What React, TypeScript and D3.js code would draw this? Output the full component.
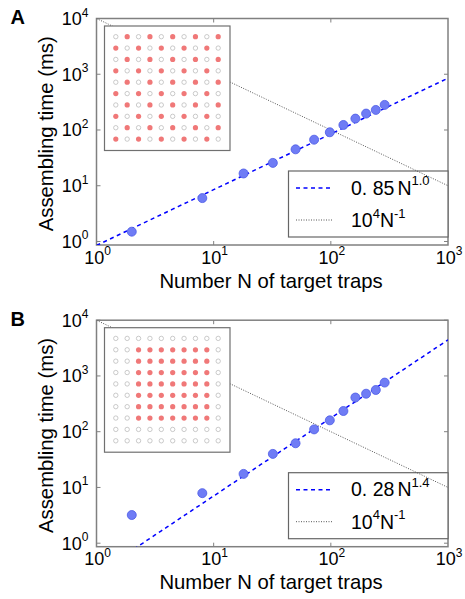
import React, { useRef, useEffect } from 'react'
import * as d3 from 'd3'

// number of target traps (x) and assembling times (ms)
const trapCounts = [2, 8, 18, 32, 50, 72, 98, 128, 162, 200, 242, 288]
const timesA = [1.5, 6.0, 16.6, 25.7, 45, 67, 91, 123, 160, 197, 229, 282]
const timesB = [3.2, 7.9, 17.5, 40, 62, 110, 160, 235, 410, 480, 560, 760]

// fit lines: coefficient and exponent
const fitA = { coef: 0.85, exp: 1.0, label: ['0. 85', 'N', '1.0'] }
const fitB = { coef: 0.28, exp: 1.4, label: ['0. 28', 'N', '1.4'] }
const refLine = { coef: 1e4, exp: -1 }

// trap pattern insets: 1 = filled target trap
const patternA = [
  '0101010101', '1010101010', '0101010101', '1010101010', '0101010101',
  '1010101010', '0101010101', '1010101010', '0101010101', '1010101010',
]
const patternB = [
  '0000000000', '0011111110', '0011111110', '0011111110', '0011111110',
  '0011111110', '0011111110', '0011111110', '0000000000', '0000000000',
]

const xTicks = [1, 10, 100, 1000]
const yTicks = [1, 10, 100, 1000, 10000]

const font = "'Liberation Sans', Arial, sans-serif"

const layout = { width: 465, height: 599, left: 96.5, right: 448, top: 18.5, bottom: 245, offsetB: 301.7 }

export default function App() {
  const ref = useRef<SVGSVGElement>(null)

  useEffect(() => {
    const svg = d3.select(ref.current)
    svg.selectAll('*').remove()

    const xScale = d3.scaleLog().domain([1, 1000]).range([layout.left, layout.right])

    const panels = [
      { name: 'A', dy: 0, times: timesA, fit: fitA, pattern: patternA },
      { name: 'B', dy: layout.offsetB, times: timesB, fit: fitB, pattern: patternB },
    ]

    panels.forEach((p, pi) => {
      const g = svg.append('g').attr('transform', `translate(0, ${p.dy})`)
      const yScale = d3.scaleLog().domain([0.865, 1e4]).range([layout.bottom, layout.top])

      const clipId = `clip${pi}`
      g.append('clipPath').attr('id', clipId)
        .append('rect')
        .attr('x', layout.left).attr('y', layout.top)
        .attr('width', layout.right - layout.left)
        .attr('height', layout.bottom - layout.top)

      // frame
      g.append('rect')
        .attr('x', layout.left).attr('y', layout.top)
        .attr('width', layout.right - layout.left)
        .attr('height', layout.bottom - layout.top)
        .attr('fill', 'none').attr('stroke', '#808080').attr('stroke-width', 1.5)

      // inward ticks
      const tickLen = 4
      xTicks.slice(1, -1).forEach(t => {
        const x = xScale(t)
        g.append('line').attr('x1', x).attr('x2', x).attr('y1', layout.bottom).attr('y2', layout.bottom - tickLen)
          .attr('stroke', '#808080').attr('stroke-width', 1)
        g.append('line').attr('x1', x).attr('x2', x).attr('y1', layout.top).attr('y2', layout.top + tickLen)
          .attr('stroke', '#808080').attr('stroke-width', 1)
      })
      yTicks.forEach(t => {
        const y = yScale(t)
        g.append('line').attr('x1', layout.left).attr('x2', layout.left + tickLen).attr('y1', y).attr('y2', y)
          .attr('stroke', '#808080').attr('stroke-width', 1)
        g.append('line').attr('x1', layout.right).attr('x2', layout.right - tickLen).attr('y1', y).attr('y2', y)
          .attr('stroke', '#808080').attr('stroke-width', 1)
      })

      // tick labels
      const xl = g.append('g').selectAll('text').data(xTicks).join('text')
        .attr('x', d => xScale(d) + 1).attr('y', layout.bottom + 18.5)
        .attr('text-anchor', 'middle').attr('font-family', font).attr('font-size', 18)
      xl.append('tspan').text('10')
      xl.append('tspan').attr('dy', -8.5).attr('font-size', 12).text(d => Math.round(Math.log10(d)))

      const yl = g.append('g').selectAll('text').data(yTicks).join('text')
        .attr('x', layout.left - 8).attr('y', d => yScale(d) + 6.5)
        .attr('text-anchor', 'end').attr('font-family', font).attr('font-size', 18)
      yl.append('tspan').text('10')
      yl.append('tspan').attr('dy', -8.5).attr('font-size', 12).text(d => Math.round(Math.log10(d)))

      // axis titles
      g.append('text')
        .attr('x', 271).attr('y', layout.bottom + 42.5)
        .attr('text-anchor', 'middle').attr('font-family', font).attr('font-size', 20.3)
        .text('Number N of target traps')
      g.append('text')
        .attr('transform', `translate(53, ${(layout.top + layout.bottom) / 2 + 2}) rotate(-90)`)
        .attr('text-anchor', 'middle').attr('font-family', font).attr('font-size', 20.3)
        .text('Assembling time (ms)')

      // panel letter
      g.append('text').attr('x', 10.5).attr('y', 24)
        .attr('font-family', font).attr('font-size', 20).attr('font-weight', 'bold')
        .text(p.name)

      // legend
      const lg = g.append('g')
      lg.append('rect')
        .attr('x', 288.5).attr('y', 171).attr('width', 159.5).attr('height', 66)
        .attr('fill', 'white').attr('stroke', '#666').attr('stroke-width', 1.2)
      lg.append('line').attr('x1', 296).attr('x2', 333).attr('y1', 188).attr('y2', 188)
        .attr('stroke', '#0000ff').attr('stroke-width', 1.5).attr('stroke-dasharray', '4,3.5')
      lg.append('line').attr('x1', 296).attr('x2', 333).attr('y1', 220).attr('y2', 220)
        .attr('stroke', '#555').attr('stroke-width', 1).attr('stroke-dasharray', '1,1.5')
      const t1 = lg.append('text').attr('x', 351).attr('y', 194.5)
        .attr('font-family', font).attr('font-size', 19.5)
      t1.append('tspan').text(p.fit.label[0])
      t1.append('tspan').attr('dx', 3).text(p.fit.label[1])
      t1.append('tspan').attr('dy', -9.5).attr('font-size', 13).text(p.fit.label[2])
      const t2 = lg.append('text').attr('x', 351).attr('y', 227)
        .attr('font-family', font).attr('font-size', 19.5)
      t2.append('tspan').text('10')
      t2.append('tspan').attr('dy', -9.5).attr('font-size', 13).text('4')
      t2.append('tspan').attr('dy', 9.5).text('N')
      t2.append('tspan').attr('dy', -9.5).attr('font-size', 13).text('-1')

      // lines
      const lineGen = d3.line<number>()
        .x(d => xScale(d))
      const nGrid = d3.range(0, 3.001, 0.05).map(e => Math.pow(10, e))
      const lines = g.append('g').attr('clip-path', `url(#${clipId})`)
      lines.append('path')
        .datum(nGrid)
        .attr('d', lineGen.y(d => yScale(refLine.coef * Math.pow(d, refLine.exp))))
        .attr('fill', 'none').attr('stroke', '#555').attr('stroke-width', 1)
        .attr('stroke-dasharray', '1,1.5')

      // inset with trap pattern
      const inset = g.append('g')
      inset.append('rect')
        .attr('x', 104.5).attr('y', 26).attr('width', 125.5).attr('height', 124.5)
        .attr('fill', 'white').attr('stroke', '#707070').attr('stroke-width', 1.2)
      const dotX = d3.scaleLinear().domain([0, 9]).range([115.8, 218.2])
      const dotY = d3.scaleLinear().domain([0, 9]).range([36.7, 139.1])
      const cells = p.pattern.flatMap((row, r) => row.split('').map((v, c) => ({ r, c, on: v === '1' })))
      inset.selectAll('circle').data(cells).join('circle')
        .attr('cx', d => dotX(d.c)).attr('cy', d => dotY(d.r)).attr('r', d => d.on ? 2.6 : 2.2)
        .attr('fill', d => d.on ? '#f07878' : 'none')
        .attr('stroke', d => d.on ? 'none' : '#bdbdbd').attr('stroke-width', 0.8)

      const lines2 = g.append('g').attr('clip-path', `url(#${clipId})`)
      lines2.append('path')
        .datum(nGrid)
        .attr('d', lineGen.y(d => yScale(p.fit.coef * Math.pow(d, p.fit.exp))))
        .attr('fill', 'none').attr('stroke', '#0000ff').attr('stroke-width', 1.5)
        .attr('stroke-dasharray', '4,3.5')

      // data points
      g.append('g').selectAll('circle')
        .data(trapCounts.map((n, i) => ({ n, t: p.times[i] })))
        .join('circle')
        .attr('cx', d => xScale(d.n)).attr('cy', d => yScale(d.t)).attr('r', 4.5)
        .attr('fill', '#6f7cf5').attr('stroke', '#4b5be6').attr('stroke-width', 0.8)
    })
  }, [])

  return (
    <div style={{ position: 'fixed', left: 0, top: 0 }}>
      <svg ref={ref} width={layout.width} height={layout.height} style={{ display: 'block', background: 'white' }} />
    </div>
  )
}
